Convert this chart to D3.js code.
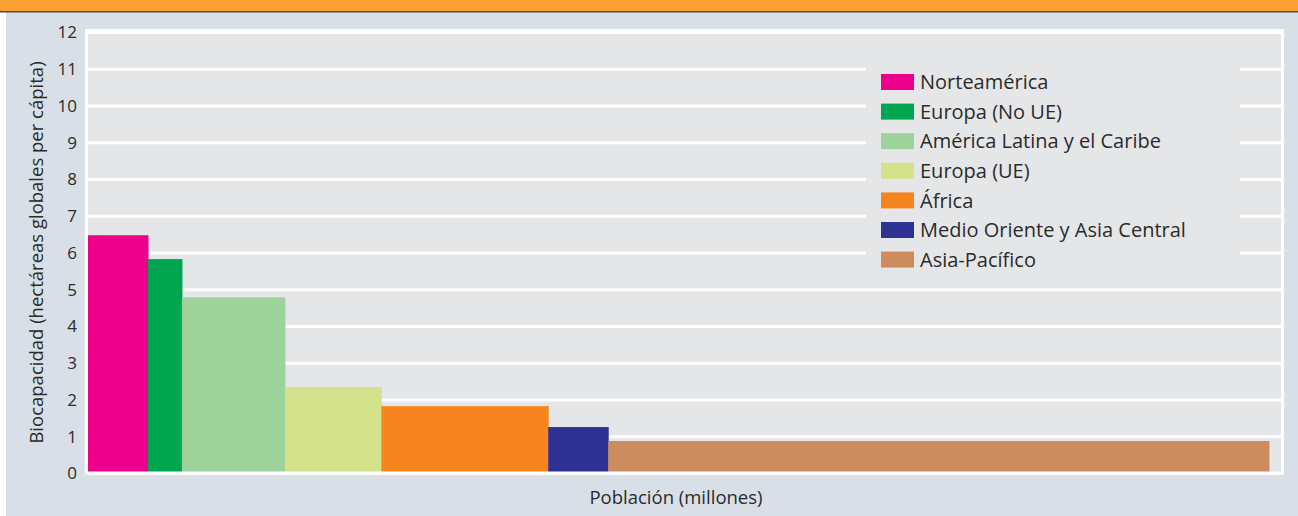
<!DOCTYPE html>
<html>
<head>
<meta charset="utf-8">
<script src="https://cdn.jsdelivr.net/npm/d3@7"></script>
<style>
  body { margin: 0; background: #fff; }
  svg text { font-family: "Open Sans", Lato, sans-serif; fill: #2b2b2b; }
</style>
</head>
<body>
<svg id="chart" width="1298" height="516"></svg>
<script>
// regions, left to right
var regions = ["Norteamérica", "Europa (No UE)", "América Latina y el Caribe",
               "Europa (UE)", "África", "Medio Oriente y Asia Central", "Asia-Pacífico"];
// population (millions) -> bar width
var population = [318, 180, 546, 511, 885, 318, 3503];
// biocapacity (global hectares per person) -> bar height
var biocapacity = [6.47, 5.82, 4.78, 2.34, 1.82, 1.25, 0.87];
var colors = ["#ec008c", "#00a54f", "#9dd39b", "#d4e28b", "#f7851f", "#2e3192", "#cc8c5d"];
var yTicks = [0, 1, 2, 3, 4, 5, 6, 7, 8, 9, 10, 11, 12];

var svg = d3.select("#chart");
var W = 1298, H = 516;
var plot = {left: 88, right: 1281, top: 32, bottom: 473};

// page frame
svg.append("rect").attr("x", 6).attr("y", 12).attr("width", W - 6).attr("height", H - 12)
    .attr("fill", "#d8dfe6");
svg.append("rect").attr("x", 0).attr("y", 0).attr("width", W).attr("height", 11)
    .attr("fill", "#f9a031");
svg.append("rect").attr("x", 0).attr("y", 11).attr("width", W).attr("height", 1.5)
    .attr("fill", "#4a4a4a");

// scales
var total = d3.sum(population);
var x = d3.scaleLinear()
    .domain([0, total * 1.0102])
    .range([plot.left, plot.right]);
var y = d3.scaleLinear()
    .domain([0, 12])
    .range([plot.bottom, plot.top]);

// cumulative start of each bar
var starts = [];
population.reduce(function (acc, p, i) { starts[i] = acc; return acc + p; }, 0);

svg.append("rect")
    .attr("x", plot.left).attr("y", plot.top)
    .attr("width", plot.right - plot.left).attr("height", plot.bottom - plot.top)
    .attr("fill", "#e5e6e8");

// y axis with gridlines
var yAxis = svg.append("g")
    .attr("transform", "translate(" + plot.left + ",0)")
    .call(d3.axisLeft(y).tickValues(yTicks).tickSize(-(plot.right - plot.left)).tickPadding(11));
yAxis.select(".domain").remove();
yAxis.selectAll(".tick line").attr("stroke", "#fff").attr("stroke-width", 3);
yAxis.selectAll(".tick text")
    .style("font-size", "17px")
    .attr("dy", "0.35em");

// legend panel hides the gridlines behind it
var legend = svg.append("g");
legend.append("rect")
    .attr("x", 866).attr("y", 50).attr("width", 374).attr("height", 228)
    .attr("fill", "#e5e6e8");

// bars
svg.append("g").selectAll("rect")
    .data(regions)
    .join("rect")
    .attr("x", function (d, i) { return x(starts[i]); })
    .attr("y", function (d, i) { return y(biocapacity[i]); })
    .attr("width", function (d, i) { return x(starts[i] + population[i]) - x(starts[i]) + 0.5; })
    .attr("height", function (d, i) { return y(0) - y(biocapacity[i]) - 1; })
    .attr("fill", function (d, i) { return colors[i]; });

// plot border
svg.append("rect")
    .attr("x", plot.left - 1.5).attr("y", plot.top - 1.5)
    .attr("width", plot.right - plot.left + 3).attr("height", plot.bottom - plot.top + 1.5)
    .attr("fill", "none").attr("stroke", "#fff").attr("stroke-width", 3);

// legend items
var items = legend.selectAll(".item")
    .data(regions)
    .join("g")
    .attr("class", "item")
    .attr("transform", function (d, i) { return "translate(881," + (82 + i * 29.6) + ")"; });
items.append("rect")
    .attr("x", 0).attr("y", -8).attr("width", 33).attr("height", 16)
    .attr("fill", function (d, i) { return colors[i]; });
items.append("text")
    .attr("x", 39).attr("dy", "0.36em")
    .style("font-size", "20px")
    .text(function (d) { return d; });

// axis titles
svg.append("text")
    .attr("transform", "translate(43," + ((plot.top + plot.bottom) / 2) + ") rotate(-90)")
    .attr("text-anchor", "middle")
    .style("font-size", "18.5px")
    .text("Biocapacidad (hectáreas globales per cápita)");
svg.append("text")
    .attr("x", 676).attr("y", 504)
    .attr("text-anchor", "middle")
    .style("font-size", "18.5px")
    .text("Población (millones)");
</script>
</body>
</html>
